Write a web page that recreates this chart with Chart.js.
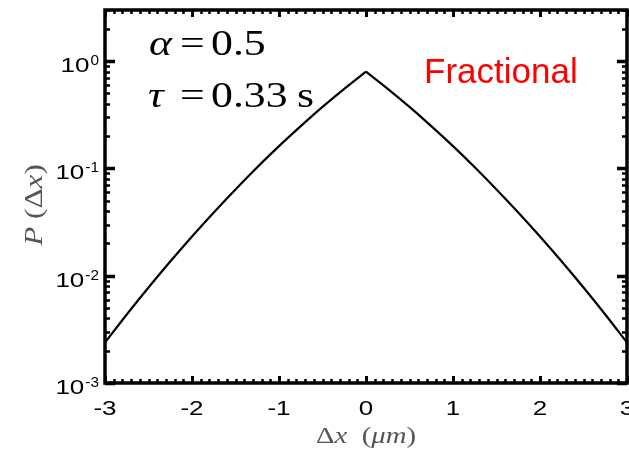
<!DOCTYPE html>
<html>
<head>
<meta charset="utf-8">
<script src="https://cdn.jsdelivr.net/npm/chart.js@4.4.1/dist/chart.umd.min.js"></script>
<style>
  html, body { margin: 0; padding: 0; background: #fff; }
  canvas { display: block; }
</style>
</head>
<body>
<canvas id="c" width="629" height="454"></canvas>
<script>
// Displacement distribution P(Δx) of the fractional model
const xValues = [-3, -2.75, -2.5, -2.25, -2, -1.75, -1.5, -1.25, -1, -0.75, -0.5, -0.25, 0,
                 0.25, 0.5, 0.75, 1, 1.25, 1.5, 1.75, 2, 2.25, 2.5, 2.75, 3];
const pValues = [0.00238, 0.00435, 0.00776, 0.01355, 0.0232, 0.0389, 0.0638, 0.1026, 0.1614, 0.248, 0.375, 0.553, 0.80,
                 0.553, 0.375, 0.248, 0.1614, 0.1026, 0.0638, 0.0389, 0.0232, 0.01355, 0.00776, 0.00435, 0.00238];

// Axis tick labels
const xTickValues = [-3, -2, -1, 0, 1, 2, 3];
const xTickLabels = ['-3', '-2', '-1', '0', '1', '2', '3'];
const yTickExponents = [0, -1, -2, -3];
const yTickLabels = ['0', '-1', '-2', '-3'];

const xMin = -3, xMax = 3;
const yMin = 1e-3, yMax = 3;

function stretchedText(ctx, text, x, y, font, sx, align, color) {
  ctx.save();
  ctx.translate(x, y);
  ctx.scale(sx, 1);
  ctx.font = font;
  ctx.textAlign = align || 'left';
  ctx.textBaseline = 'alphabetic';
  ctx.fillStyle = color || '#000';
  ctx.fillText(text, 0, 0);
  ctx.restore();
}

function textWidth(ctx, text, font, sx) {
  ctx.save();
  ctx.font = font;
  const w = ctx.measureText(text).width * sx;
  ctx.restore();
  return w;
}

// Draw a run of [text, font] pieces one after another
function drawRun(ctx, pieces, x, y, sx, color) {
  let cx = x;
  for (const [t, f] of pieces) {
    stretchedText(ctx, t, cx, y, f, sx, 'left', color);
    cx += textWidth(ctx, t, f, sx);
  }
  return cx;
}
function runWidth(ctx, pieces, sx) {
  return pieces.reduce((s, [t, f]) => s + textWidth(ctx, t, f, sx), 0);
}

const framePlugin = {
  id: 'frame',
  beforeDraw(chart) {
    const ctx = chart.ctx;
    ctx.save();
    ctx.fillStyle = '#fff';
    ctx.fillRect(0, 0, chart.width, chart.height);
    ctx.restore();
  },
  afterDraw(chart) {
    const ctx = chart.ctx;
    const { left, right, top, bottom } = chart.chartArea;
    const xs = chart.scales.x, ys = chart.scales.y;
    ctx.save();
    ctx.strokeStyle = '#000';
    ctx.lineCap = 'butt';

    // x ticks every 0.1, inward from bottom and top
    for (let i = -30; i <= 30; i++) {
      const v = i / 10;
      const px = Math.round(xs.getPixelForValue(v)) + 0.5;
      const major = i % 10 === 0;
      const len = major ? 7 : 4;
      ctx.lineWidth = major ? 3 : 2.5;
      ctx.beginPath();
      ctx.moveTo(px, bottom); ctx.lineTo(px, bottom - len);
      ctx.moveTo(px, top); ctx.lineTo(px, top + len);
      ctx.stroke();
    }

    // y ticks: decades and 2..9 minors, inward from left and right
    for (let d = -3; d <= 0; d++) {
      for (let m = 1; m <= 9; m++) {
        const v = m * Math.pow(10, d);
        if (v < yMin - 1e-12 || v > yMax + 1e-12) continue;
        const py = Math.round(ys.getPixelForValue(v)) + 0.5;
        const major = m === 1;
        const len = major ? 10 : 5;
        ctx.lineWidth = major ? 3.5 : 2.5;
        ctx.beginPath();
        ctx.moveTo(left, py); ctx.lineTo(left + len, py);
        ctx.moveTo(right, py); ctx.lineTo(right - len, py);
        ctx.stroke();
      }
    }

    // frame
    ctx.lineWidth = 3.5;
    ctx.strokeRect(left, top, right - left, bottom - top);
    ctx.restore();

    // x tick labels
    const tickFont = '20px "Liberation Sans", Arial, sans-serif';
    xTickValues.forEach((v, i) => {
      stretchedText(ctx, xTickLabels[i], xs.getPixelForValue(v), 415, tickFont, 1.3, 'center');
    });

    // y tick labels 10^n
    const supFont = '14px "Liberation Sans", Arial, sans-serif';
    yTickExponents.forEach((e, i) => {
      const py = ys.getPixelForValue(Math.pow(10, e));
      const sup = yTickLabels[i];
      const wSup = textWidth(ctx, sup, supFont, 1.1);
      const xr = 99;
      stretchedText(ctx, sup, xr - wSup, py + 4, supFont, 1.1, 'left');
      stretchedText(ctx, '10', xr - wSup - 1, py + 11, tickFont, 1.3, 'right');
    });

    // axis titles
    const gray = '#555';
    const up = '23px "Liberation Serif", "Times New Roman", serif';
    const it = 'italic 23px "Liberation Serif", "Times New Roman", serif';
    const xTitle = [['Δ', up], ['x', it], ['  (', up], ['μm', it], [')', up]];
    const wx = runWidth(ctx, xTitle, 1.25);
    drawRun(ctx, xTitle, (left + right) / 2 - wx / 2, 443, 1.25, gray);

    const up2 = '26px "Liberation Serif", "Times New Roman", serif';
    const it2 = 'italic 26px "Liberation Serif", "Times New Roman", serif';
    const yTitle = [['P', it2], [' (', up2], ['Δ', up2], ['x', it2], [')', up2]];
    const wy = runWidth(ctx, yTitle, 1.2);
    ctx.save();
    ctx.translate(42, 205);
    ctx.rotate(-Math.PI / 2);
    drawRun(ctx, yTitle, -wy / 2, 0, 1.2, gray);
    ctx.restore();

    // parameter annotations
    const aUp = '35px "Liberation Serif", "Times New Roman", serif';
    const aIt = 'italic 35px "Liberation Serif", "Times New Roman", serif';
    stretchedText(ctx, 'α', 149, 55, aIt, 1.25, 'left');
    stretchedText(ctx, '=', 180, 55, aUp, 1.25, 'left');
    stretchedText(ctx, '0.5', 211, 55, aUp, 1.25, 'left');
    stretchedText(ctx, 'τ', 148, 107, aIt, 1.25, 'left');
    stretchedText(ctx, '=', 180, 107, aUp, 1.25, 'left');
    stretchedText(ctx, '0.33', 211, 107, aUp, 1.25, 'left');
    stretchedText(ctx, 's', 297, 107, aUp, 1.25, 'left');

    stretchedText(ctx, 'Fractional', 424, 83, '35px "Liberation Sans", Arial, sans-serif', 1.0, 'left', '#ff0000');
  }
};

// Each side of the peak is drawn as its own monotone branch so the cusp at 0 stays sharp
const peakIndex = xValues.indexOf(0);
const points = xValues.map((x, i) => ({ x: x, y: pValues[i] }));
const branch = (pts) => ({
  data: pts,
  borderColor: '#000',
  borderWidth: 2.2,
  pointRadius: 0,
  cubicInterpolationMode: 'monotone',
  fill: false
});

new Chart(document.getElementById('c'), {
  type: 'line',
  data: {
    datasets: [
      branch(points.slice(0, peakIndex + 1)),
      branch(points.slice(peakIndex))
    ]
  },
  options: {
    responsive: false,
    animation: false,
    events: [],
    layout: { padding: { left: 105, right: 2, top: 10, bottom: 71 } },
    plugins: { legend: { display: false }, tooltip: { enabled: false } },
    scales: {
      x: { type: 'linear', min: xMin, max: xMax, display: false },
      y: { type: 'logarithmic', min: yMin, max: yMax, display: false }
    }
  },
  plugins: [framePlugin]
});
</script>
</body>
</html>
